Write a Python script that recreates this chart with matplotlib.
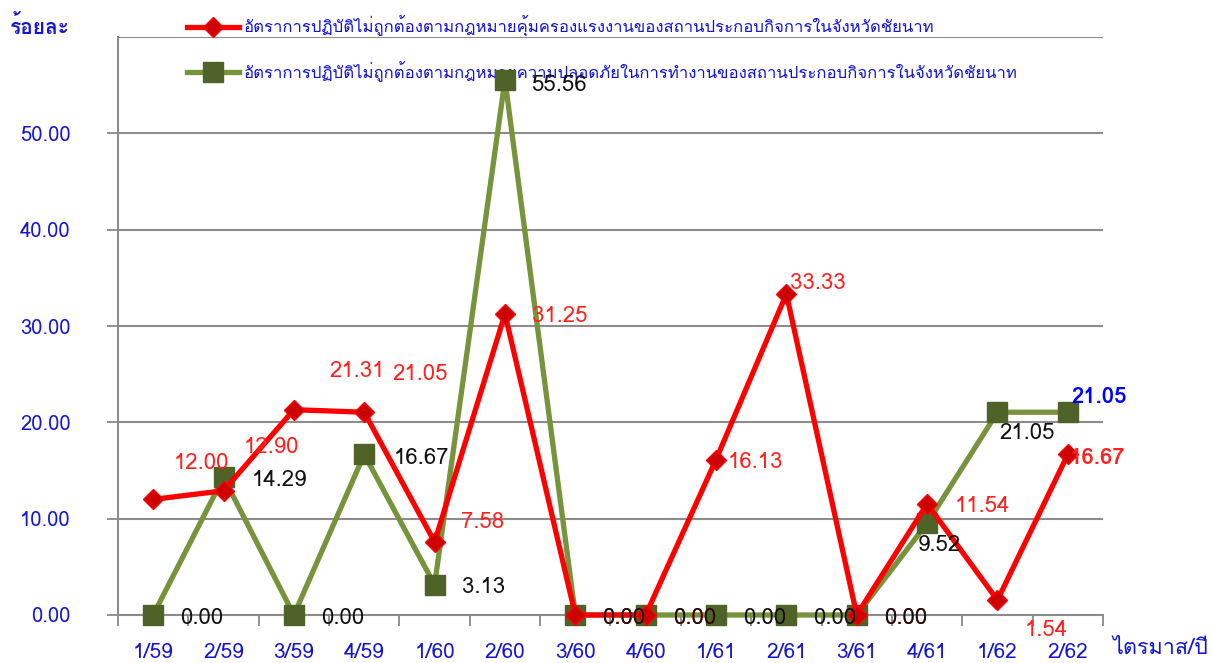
import matplotlib
matplotlib.use("Agg")
import matplotlib.pyplot as plt
from matplotlib import font_manager
from matplotlib.ft2font import FT2Font
import numpy as np

# ---------------- data ----------------
quarters = ["1/59", "2/59", "3/59", "4/59", "1/60", "2/60", "3/60", "4/60",
            "1/61", "2/61", "3/61", "4/61", "1/62", "2/62"]
labor_rate = [12.00, 12.90, 21.31, 21.05, 7.58, 31.25, 0.00, 0.00,
              16.13, 33.33, 0.00, 11.54, 1.54, 16.67]
safety_rate = [0.00, 14.29, 0.00, 16.67, 3.13, 55.56, 0.00, 0.00,
               0.00, 0.00, 0.00, 9.52, 21.05, 21.05]
labor_name = "อัตราการปฏิบัติไม่ถูกต้องตามกฎหมายคุ้มครองแรงงานของสถานประกอบกิจการในจังหวัดชัยนาท"
safety_name = "อัตราการปฏิบัติไม่ถูกต้องตามกฎหมายความปลอดภัยในการทำงานของสถานประกอบกิจการในจังหวัดชัยนาท"
y_title = "ร้อยละ"
x_title = "ไตรมาส/ปี"
y_ticks = [0, 10, 20, 30, 40, 50]

# ---------------- font selection (need Thai glyphs) ----------------
thai_font = None
for f in font_manager.fontManager.ttflist:
    try:
        cm = FT2Font(f.fname).get_charmap()
        if 0x0E01 in cm and 0x0E31 in cm and 0x0E49 in cm:
            thai_font = f.name
            break
    except Exception:
        pass
families = ([thai_font] if thai_font else []) + ["DejaVu Sans"]
plt.rcParams["font.family"] = families

# ---------------- figure ----------------
fig = plt.figure(figsize=(12.13, 6.63), dpi=100)
ax = fig.add_axes([118/1213, 1 - 615/663, 985/1213, 578/663])

x = np.arange(len(quarters))
red_line = "#FF0000"
red_marker = "#CC0000"
green_line = "#77933C"
green_marker = "#4F6228"
blue = "#1414D2"

l1, = ax.plot(x, labor_rate, color=red_line, lw=3.8, marker="D", ms=10,
              mfc=red_marker, mec=red_line, mew=1, zorder=4, label=labor_name,
              clip_on=False)
l2, = ax.plot(x, safety_rate, color=green_line, lw=3.8, marker="s", ms=14,
              mfc=green_marker, mec=green_marker, zorder=3, label=safety_name,
              clip_on=False)

ax.set_xlim(-0.5, len(quarters) - 0.5)
ax.set_ylim(0, 60)
ax.set_yticks(y_ticks)
ax.set_yticklabels([f"{v:.2f}" for v in y_ticks], color=blue, fontsize=14.5)
ax.set_xticks(x)
ax.set_xticklabels(quarters, color=blue, fontsize=15)
ax.set_xticks(np.arange(-0.5, len(quarters)), minor=True)
ax.tick_params(axis="x", which="major", length=0, pad=20)
ax.tick_params(axis="x", which="minor", length=8, color="#888888", width=1.3)
ax.tick_params(axis="y", length=8, color="#888888", width=1.3, pad=26)

ax.grid(axis="y", color="#8C8C8C", lw=1.5, zorder=0)
ax.axhline(60, color="#8C8C8C", lw=1.5, zorder=0)
for s in ["top", "right"]:
    ax.spines[s].set_visible(False)
ax.spines["left"].set_color("#8C8C8C")
ax.spines["bottom"].set_color("#8C8C8C")
ax.spines["left"].set_linewidth(1.5)
ax.spines["bottom"].set_linewidth(1.5)
ax.set_axisbelow(True)

# ---------------- data labels ----------------
px = 0.72  # points per pixel at dpi 100
lab_fs = 16

# red labels: (dx px, dy px, ha)
red_off = [(48, 36, "center"), (48, 43, "center"), (63, 38, "center"),
           (56, 38, "center"), (26, 19, "left"), (27, -3, "left"),
           (27, -3, "left"), (27, -3, "left"), (12, -3, "left"),
           (4, 10, "left"), (27, -3, "left"), (28, -3, "left"),
           (27, -30, "left"), (2, -4, "left")]
for i, (v, (dx, dy, ha)) in enumerate(zip(labor_rate, red_off)):
    last = i == len(labor_rate) - 1
    ax.annotate(f"{v:.2f}", (x[i], v), xytext=(dx*px, dy*px),
                textcoords="offset points", ha=ha, va="center",
                color="#FF2020", fontsize=lab_fs,
                fontweight="bold" if last else "normal", zorder=6,
                annotation_clip=False)

green_off = [(27, -3, "left"), (28, -3, "left"), (27, -3, "left"),
             (29, -4, "left"), (27, -3, "left"), (26, -6, "left"),
             (27, -3, "left"), (27, -3, "left"), (27, -3, "left"),
             (27, -3, "left"), (27, -3, "left"), (12, -22, "center"),
             (30, -21, "center"), (4, 15, "left")]
for i, (v, (dx, dy, ha)) in enumerate(zip(safety_rate, green_off)):
    last = i == len(safety_rate) - 1
    ax.annotate(f"{v:.2f}", (x[i], v), xytext=(dx*px, dy*px),
                textcoords="offset points", ha=ha, va="center",
                color="#0000FF" if last else "#111111", fontsize=lab_fs,
                fontweight="bold" if last else "normal", zorder=6,
                annotation_clip=False)

# ---------------- titles ----------------
fig.text(40/1213, 1 - 26/663, y_title, ha="center", va="center",
         color=blue, fontsize=15, fontweight="bold")
fig.text(1160/1213, 1 - 648/663, x_title, ha="center", va="center",
         color=blue, fontsize=15.5)

# ---------------- legend ----------------
leg = ax.legend(handles=[l1, l2], loc="upper left",
                bbox_to_anchor=(187/1213, 1 - 16/663),
                bbox_transform=fig.transFigure, frameon=False,
                fontsize=12, labelcolor=blue, handlelength=3.1,
                handletextpad=0.3, labelspacing=1.45, borderpad=0,
                borderaxespad=0)
leg.set_zorder(1)

fig.savefig("out.png", dpi=100)
